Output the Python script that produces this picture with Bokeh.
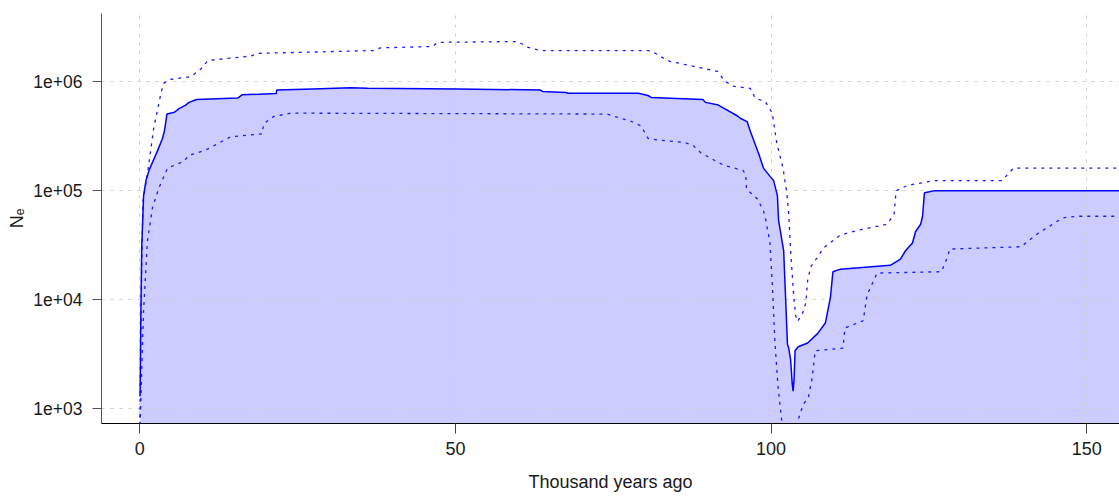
from bokeh.plotting import figure
from bokeh.models import Range1d, FixedTicker
from bokeh.embed import file_html
from bokeh.resources import INLINE

# ---- data (thousand years ago, effective population size) ----
median_x = [0.05, 0.15, 0.3, 0.6, 1.0, 1.5, 2.8, 3.6, 3.9, 4.3, 5.5, 6.2, 7.2, 7.8, 9.0,
            15.5, 16.2, 21.6, 21.7, 27.4, 33.4, 36.1, 50.4, 63.5, 63.8, 67.5, 67.8, 79.0,
            80.5, 81.0, 89.2, 89.6, 91.5, 94.7, 95.2, 96.2, 96.7, 98.0, 98.8, 99.9, 100.4,
            101.0, 101.2, 102.0, 102.6, 102.8, 103.1, 103.35, 103.5, 103.65, 103.8, 104.3,
            105.8, 107.4, 108.6, 109.4, 109.8, 111.0, 118.9, 120.5, 121.3, 122.4, 122.9,
            123.7, 124.0, 124.3, 125.8, 155.2]
median_n = [1300, 6000, 3.0e4, 9.0e4, 1.25e5, 1.55e5, 2.3e5, 3.0e5, 3.5e5, 5.0e5, 5.2e5,
            5.6e5, 6.0e5, 6.4e5, 6.8e5, 7.0e5, 7.5e5, 7.7e5, 8.3e5, 8.5e5, 8.7e5, 8.6e5,
            8.5e5, 8.3e5, 8.05e5, 7.9e5, 7.75e5, 7.75e5, 7.4e5, 7.1e5, 6.8e5, 6.4e5, 6.1e5,
            4.8e5, 4.55e5, 4.27e5, 3.5e5, 2.2e5, 1.6e5, 1.33e5, 1.23e5, 9.0e4, 5.3e4, 2.8e4,
            3.9e3, 3.6e3, 2.8e3, 1.7e3, 1.45e3, 1.9e3, 3.4e3, 3.7e3, 4.0e3, 4.9e3, 6.1e3,
            1.04e4, 1.8e4, 1.9e4, 2.06e4, 2.35e4, 2.8e4, 3.3e4, 4.2e4, 4.9e4, 5.8e4, 9.5e4,
            9.9e4, 9.9e4]

upper_x = [0.0, 0.3, 0.5, 1.2, 2.2, 3.4, 3.8, 4.9, 8.1, 9.7, 10.8, 17.6, 18.7, 27.4, 37.0,
           38.1, 46.4, 47.2, 59.9, 61.4, 63.5, 80.6, 81.7, 83.3, 84.0, 91.5, 92.7, 94.0,
           96.7, 97.5, 99.1, 100.2, 100.9, 101.9, 102.5, 102.8, 103.1, 103.6, 103.9, 104.2,
           105.0, 105.5, 105.8, 106.3, 108.4, 111.0, 113.7, 118.4, 119.5, 119.8, 121.6,
           125.8, 136.6, 138.4, 155.2]
upper_n = [700, 2.0e4, 8.0e4, 1.4e5, 3.7e5, 8.0e5, 9.6e5, 1.04e6, 1.1e6, 1.3e6, 1.55e6,
           1.7e6, 1.8e6, 1.85e6, 1.91e6, 2.02e6, 2.08e6, 2.27e6, 2.31e6, 2.05e6, 1.91e6,
           1.91e6, 1.8e6, 1.58e6, 1.52e6, 1.23e6, 1.0e6, 9.0e5, 8.6e5, 7.0e5, 6.5e5, 5.1e5,
           2.7e5, 1.6e5, 9.4e4, 6.1e4, 2.8e4, 1.05e4, 7.1e3, 6.3e3, 7.5e3, 9.3e3, 1.5e4,
           2.0e4, 3.0e4, 3.9e4, 4.3e4, 4.9e4, 6.1e4, 9.9e4, 1.11e5, 1.23e5, 1.23e5, 1.6e5,
           1.6e5]

lower_x = [0.0, 0.6, 1.2, 2.0, 3.0, 4.4, 7.0, 7.8, 10.1, 10.8, 14.4, 19.4, 19.6, 21.2,
           23.9, 74.0, 76.6, 77.8, 79.4, 80.5, 82.0, 86.2, 87.6, 88.9, 92.5, 95.6, 96.0,
           96.1, 97.8, 98.8, 99.1, 99.4, 99.8, 100.2, 100.6, 101.1, 101.7, 102.0, 103.8,
           104.1, 105.1, 105.9, 106.5, 107.0, 111.4, 111.7, 114.6, 115.2, 116.8, 127.0,
           128.0, 128.3, 139.6, 142.2, 146.2, 148.5, 155.2]
lower_n = [600, 8.0e3, 3.4e4, 6.9e4, 1.05e5, 1.6e5, 1.85e5, 2.1e5, 2.3e5, 2.4e5, 3.1e5,
           3.3e5, 4.07e5, 4.75e5, 5.1e5, 5.0e5, 4.5e5, 4.3e5, 3.9e5, 3.0e5, 2.9e5, 2.75e5,
           2.6e5, 2.2e5, 1.7e5, 1.52e5, 1.37e5, 1.03e5, 8.4e4, 6.5e4, 5.6e4, 4.5e4, 3.4e4,
           1.4e4, 4.2e3, 1.6e3, 770, 400, 400, 730, 1.1e3, 1.26e3, 1.9e3, 3.4e3, 3.6e3,
           5.5e3, 6.4e3, 1.1e4, 1.75e4, 1.8e4, 2.5e4, 2.9e4, 3.05e4, 4.0e4, 5.6e4, 5.8e4,
           5.8e4]

x_ticks = [0, 50, 100, 150]
y_ticks = [1000, 10000, 100000, 1000000]
y_tick_labels = ["1e+03", "1e+04", "1e+05", "1e+06"]
x_label = "Thousand years ago"
y_label = "N\u2091"

FONT = "Liberation Sans"
TEXT = "#1a1a1a"

p = figure(width=1119, height=496, y_axis_type="log",
           x_range=Range1d(-6.07, 155.2), y_range=Range1d(733, 4.17e6),
           output_backend="svg", toolbar_location=None,
           min_border_left=101, min_border_right=0, min_border_top=13,
           min_border_bottom=73)
p.outline_line_color = None
p.background_fill_color = "white"
p.border_fill_color = "white"

# fill under the median (lowest level so the grid sits on top of it)
p.varea(x=median_x, y1=1, y2=median_n, fill_color="#CCCCFF", fill_alpha=1.0,
        level="image")

# CI lines and median
p.line(upper_x, upper_n, line_color="#1a1aff", line_width=1.3, line_dash="3 5")
p.line(lower_x, lower_n, line_color="#1a1aff", line_width=1.3, line_dash="3 5")
p.line(median_x, median_n, line_color="#0000ff", line_width=1.5)

# axes
p.xaxis.ticker = FixedTicker(ticks=x_ticks)
p.yaxis.ticker = FixedTicker(ticks=y_ticks)
p.yaxis.major_label_overrides = dict(zip(y_ticks, y_tick_labels))
p.xaxis.axis_label = x_label
p.yaxis.axis_label = y_label

for ax in (p.xaxis[0], p.yaxis[0]):
    ax.minor_tick_line_color = None
    ax.major_tick_in = 0
    ax.major_label_text_font = FONT
    ax.major_label_text_color = TEXT
    ax.axis_label_text_font = FONT
    ax.axis_label_text_font_size = "18px"
    ax.axis_label_text_font_style = "normal"
    ax.axis_label_text_color = TEXT

p.xaxis.major_label_text_font_size = "18px"
p.yaxis.major_label_text_font_size = "17.5px"

p.xaxis.axis_line_color = "black"
p.xaxis.major_tick_line_color = "#444444"
p.xaxis.major_tick_out = 10
p.xaxis.major_label_standoff = 8
p.xaxis.axis_label_standoff = 14

p.yaxis.axis_line_color = "#555555"
p.yaxis.major_tick_line_color = "#555555"
p.yaxis.major_tick_out = 9
p.yaxis.major_label_standoff = 10
p.yaxis.axis_label_standoff = 3

# grid: light grey dotted
for g in (p.xgrid[0], p.ygrid[0]):
    g.grid_line_color = "#cfcfcf"
    g.grid_line_dash = "3 6"
    g.grid_line_width = 1
p.xgrid.ticker = FixedTicker(ticks=x_ticks)
p.ygrid.ticker = FixedTicker(ticks=y_ticks)

open("out.html", "w").write(file_html(p, INLINE))
